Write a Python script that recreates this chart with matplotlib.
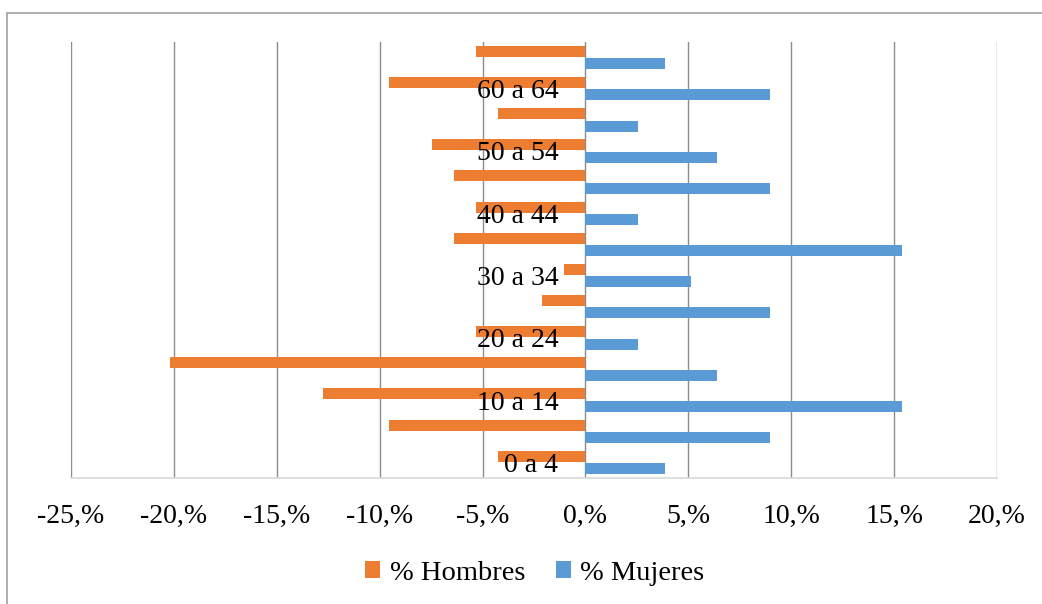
import matplotlib
matplotlib.use("Agg")
import matplotlib.pyplot as plt
from matplotlib.ticker import FuncFormatter
from matplotlib.patches import Rectangle
import numpy as np

# datos de la pirámide (porcentajes)
edades = ["0 a 4", "5 a 9", "10 a 14", "15 a 19", "20 a 24", "25 a 29", "30 a 34",
          "35 a 39", "40 a 44", "45 a 49", "50 a 54", "55 a 59", "60 a 64", "65 a 69"]
hombres = [4.26, 9.57, 12.77, 20.21, 5.32, 2.13, 1.06, 6.38, 5.32, 6.38, 7.45, 4.26, 9.57, 5.32]
mujeres = [3.85, 8.97, 15.38, 6.41, 2.56, 8.97, 5.13, 15.38, 2.56, 8.97, 6.41, 2.56, 8.97, 3.85]
ticks_x = [-25, -20, -15, -10, -5, 0, 5, 10, 15, 20]

naranja = "#ED7D31"
azul = "#5B9BD5"

plt.rcParams["font.family"] = ["Liberation Serif", "DejaVu Serif"]

fig = plt.figure(figsize=(10.42, 6.04), dpi=100)
ax = fig.add_axes([71 / 1042, 1 - 478 / 604, (997 - 71) / 1042, (478 - 42) / 604])

y = np.arange(len(edades))
ax.barh(y + 0.2, [-v for v in hombres], height=0.35, color=naranja, label="% Hombres")
ax.barh(y - 0.2, mujeres, height=0.35, color=azul, label="% Mujeres")

ax.set_xlim(-25, 20)
ax.set_ylim(-0.5, len(edades) - 0.5)
ax.set_xticks(ticks_x)
ax.xaxis.set_major_formatter(FuncFormatter(lambda v, p: f"{int(round(v))},%"))
ax.tick_params(axis="x", length=0, pad=19, labelsize=20)

# etiquetas de edad junto al eje cero, una sí y otra no
ax.set_yticks(y)
ax.set_yticklabels([e if i % 2 == 0 else "" for i, e in enumerate(edades)])
ax.spines["left"].set_position(("data", 0))
ax.tick_params(axis="y", length=0, pad=19.5, labelsize=20)

for s in ["left", "right", "top"]:
    ax.spines[s].set_visible(False)
ax.spines["bottom"].set_color("#d9d9d9")
ax.spines["bottom"].set_linewidth(1.2)

ax.set_axisbelow(True)
ax.yaxis.set_zorder(3)  # las etiquetas van encima de las barras
ax.grid(axis="x", color="#8c8c8c", linewidth=1.0)
ax.grid(axis="y", visible=False)

fig.legend(loc="center", bbox_to_anchor=(535 / 1042, 1 - 573 / 604), ncol=2,
           frameon=False, fontsize=20.5, handlelength=0.5, handleheight=0.5,
           handletextpad=0.35, columnspacing=1.1)

# borde del área del gráfico
fig.patches.append(Rectangle((7 / 1042, -0.1), 1.2, 1 - 13 / 604 + 0.1,
                             transform=fig.transFigure, fill=False,
                             edgecolor="#a0a0a0", linewidth=1.2))

fig.savefig("out.png", dpi=100)
